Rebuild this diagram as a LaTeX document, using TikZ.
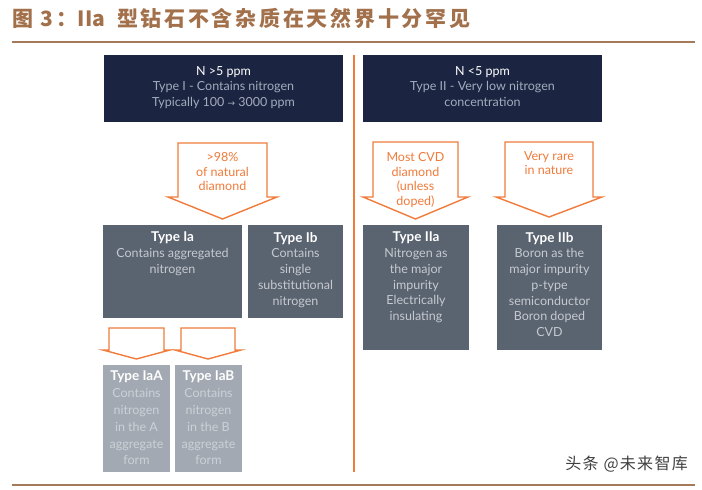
\documentclass[tikz,border=0pt]{standalone}
\usepackage{fontspec}
\setmainfont{Lato}
\newfontfamily\cjk{Noto Sans CJK SC}
\newfontfamily\symfont{DejaVu Sans}
\definecolor{titlebrown}{HTML}{A2704A}
\definecolor{rulebrown}{HTML}{A47A5A}
\definecolor{darkbox}{HTML}{1B2541}
\definecolor{midbox}{HTML}{5A6370}
\definecolor{lightbox}{HTML}{A3A9B2}
\definecolor{arroworange}{HTML}{F07B3B}
\definecolor{darksub}{HTML}{A3ABBC}
\definecolor{midsub}{HTML}{C6CAD0}
\definecolor{lightsub}{HTML}{CDD1D7}
\newcommand{\typehead}[1]{\textcolor{white}{\fontsize{13.5}{15.7}\selectfont\bfseries #1}}
\tikzset{
  arrowline/.style={draw=arroworange, line width=1.4pt, fill=white, line join=miter},
  arrowtext/.style={text=arroworange, align=center, inner sep=0pt, anchor=north,
    font=\fontsize{12.5}{14.8}\selectfont},
  boxtext/.style={align=center, inner sep=0pt, anchor=north,
    font=\fontsize{12.5}{15.7}\selectfont},
}
% block arrow: x left, x right, y top, y wing, y tip, wing overhang
\newcommand{\blockarrow}[6]{%
  \draw[arrowline] (#1,#3) -- (#2,#3) -- (#2,#4) -- ({#2+#6},#4)
    -- ({(#1+#2)/2},#5) -- ({#1-#6},#4) -- (#1,#4) -- cycle;}
\begin{document}
\begin{tikzpicture}[x=1pt,y=-1pt]
  \useasboundingbox[fill=white] (0,0) rectangle (702,490);
  % title and rules
  \node[anchor=west, inner sep=0pt, text=titlebrown,
    font=\cjk\bfseries\fontsize{21}{21}\selectfont\addfontfeature{LetterSpace=13}] (title) at (12,18)
    {图 3：{\addfontfeature{LetterSpace=2}IIa}\hspace{4pt} 型钻石不含杂质在天然界十分罕见};
  \draw[rulebrown, line width=2pt] (12,42) -- (695,42);
  \draw[rulebrown, line width=2pt] (12,485) -- (695,485);
  \draw[arroworange, line width=1.5pt] (354,55) -- (354,472);
  % top boxes
  \fill[darkbox] (104,55) rectangle (343,122);
  \fill[darkbox] (363,55) rectangle (602,122);
  \node[boxtext, text=darksub] (nhigh) at (223.5,66)
    {\textcolor{white}{N >5 ppm}\\Type I - Contains nitrogen\\
     Typically 100 {\symfont\fontsize{9}{9}\selectfont →} 3000 ppm};
  \node[boxtext, text=darksub] (nlow) at (482.5,66)
    {\textcolor{white}{N <5 ppm}\\Type II - Very low nitrogen\\concentration};
  % arrows
  \blockarrow{178}{267}{143}{197}{219}{10}
  \blockarrow{373}{458}{142}{197}{219}{10}
  \blockarrow{505}{593}{142}{197}{217}{9}
  \blockarrow{109}{164}{328}{350}{359}{6}
  \blockarrow{181}{235}{328}{350}{359}{6}
  \node[arrowtext] (natural) at (222.5,152) {>98\%\\of natural\\diamond};
  \node[arrowtext] (cvd) at (415.5,152) {Most CVD\\diamond\\(unless\\doped)};
  \node[arrowtext] (rare) at (549,151) {Very rare\\in nature};
  % type boxes
  \fill[midbox] (103,225) rectangle (242,318);
  \fill[midbox] (248,225) rectangle (343,318);
  \fill[midbox] (363,225) rectangle (469,350);
  \fill[midbox] (497,225) rectangle (602,350);
  \fill[lightbox] (103,365) rectangle (170,472);
  \fill[lightbox] (175,365) rectangle (242,472);
  \node[boxtext, text=midsub] (ia) at (172.5,232)
    {\typehead{Type Ia}\\Contains aggregated\\nitrogen};
  \node[boxtext, text=midsub] (ib) at (295.5,232)
    {\typehead{Type Ib}\\Contains\\single\\substitutional\\nitrogen};
  \node[boxtext, text=midsub] (iia) at (416,232)
    {\typehead{Type IIa}\\Nitrogen as\\the major\\impurity\\
     Electrically\\insulating};
  \node[boxtext, text=midsub] (iib) at (549.5,232)
    {\typehead{Type IIb}\\Boron as the\\major impurity\\p-type\\
     semiconductor\\Boron doped\\CVD};
  \node[boxtext, text=lightsub, font=\fontsize{12.5}{16.8}\selectfont] (iaa) at (136.5,371)
    {\typehead{Type IaA}\\Contains\\nitrogen\\in the A\\aggregate\\form};
  \node[boxtext, text=lightsub, font=\fontsize{12.5}{16.8}\selectfont] (iab) at (208.5,371)
    {\typehead{Type IaB}\\Contains\\nitrogen\\in the B\\aggregate\\form};
  % watermark
  \node[anchor=east, inner sep=0pt, text=black!75,
    font=\cjk\fontsize{16}{16}\selectfont\addfontfeature{LetterSpace=8}] (mark) at (688,464) {头条 @未来智库};
\end{tikzpicture}
\end{document}
